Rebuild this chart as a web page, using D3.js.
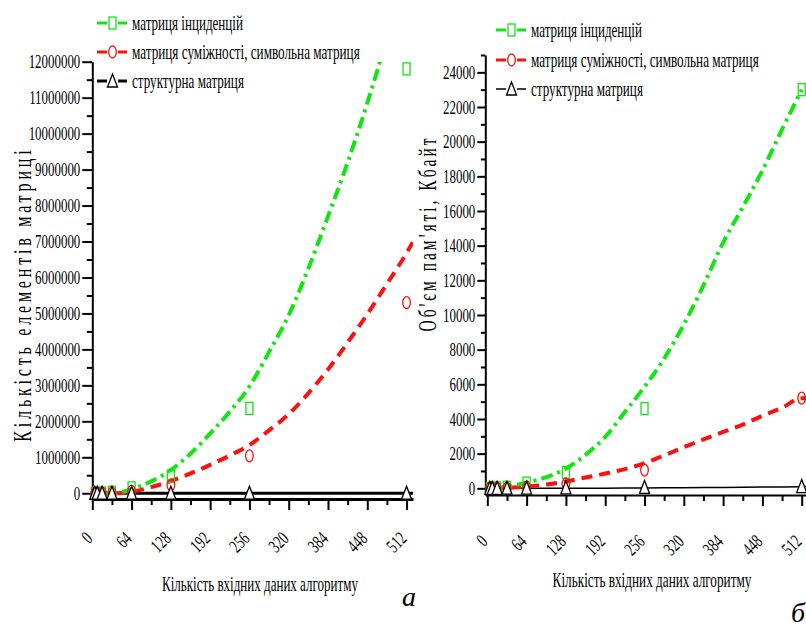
<!DOCTYPE html>
<html><head><meta charset="utf-8">
<script src="https://cdn.jsdelivr.net/npm/d3@7/dist/d3.min.js"></script>
<style>
body{margin:0;background:#fff}
svg{display:block}
text{font-family:"Liberation Serif","Times New Roman",serif;fill:#000}
</style>
</head><body>
<svg id="c" width="806" height="628"></svg>
<script>
// ---------- data ----------
const seriesNames = ["матриця інциденцій", "матриця суміжності, символьна матриця", "структурна матриця"];
const xTitle = "Кількість вхідних даних алгоритму";
const yTitleA = "Кількість елементів матриці";
const yTitleB = "Об'єм пам'яті, Кбайт";

const nodeCounts = [4, 8, 16, 32, 64, 128, 256, 512];
// panel a: number of matrix elements
const incidenceElems  = [500, 2000, 8000, 30000, 150000, 480000, 2360000, 11800000];
const adjacencyElems  = [100, 400, 2000, 10000, 50000, 230000, 1040000, 5300000];
const structuralElems = [10, 20, 40, 80, 160, 320, 640, 1280];
// panel b: memory, KB
const incidenceKB  = [1, 4, 16, 60, 300, 920, 4600, 23000];
const adjacencyKB  = [0.2, 1, 4, 15, 60, 250, 1050, 5200];
const structuralKB = [0.5, 1, 2, 5, 10, 25, 50, 100];

// fitted trend lines
const fitX = [8, 16, 32, 48, 64, 96, 128, 160, 192, 224, 256, 288, 320, 352, 384, 416, 448, 480, 512, 522];
const incidenceFitElems = [10000, 0, 0, 40000, 110000, 330000, 650000, 1100000, 1660000, 2270000, 2970000, 3930000, 4950000, 6250000, 7700000, 9200000, 10850000, 12700000, 15000000, 15800000];
const adjacencyFitElems = [0, 0, 0, 10000, 40000, 170000, 340000, 550000, 790000, 1050000, 1340000, 1750000, 2200000, 2780000, 3440000, 4190000, 4980000, 5820000, 6680000, 6980000];
const structuralFitElems = [0, 0, 0, 0, 0, 0, 0, 0, 0, 0, 0, 0, 0, 0, 0, 0, 0, 0, 0, 0];
const incidenceFitKB = [20, 30, 100, 200, 330, 640, 1140, 1930, 2970, 4400, 5860, 7490, 9450, 11710, 14180, 16220, 18330, 20710, 23000, 23000];
const adjacencyFitKB = [0, 10, 30, 60, 100, 220, 400, 620, 850, 1110, 1450, 1900, 2370, 2820, 3250, 3680, 4180, 4650, 5200, 5200];
const structuralFitKB = [0, 0, 0, 0, 0, 1, 3, 6, 10, 15, 20, 26, 33, 41, 50, 60, 70, 82, 95, 100];

const xMajor = [0, 64, 128, 192, 256, 320, 384, 448, 512];
const xMinor = [32, 96, 160, 224, 288, 352, 416, 480];
const yMajorA = d3.range(0, 12000001, 1000000);
const yMinorA = d3.range(500000, 12000001, 1000000);
const yMajorB = d3.range(0, 24001, 2000);
const yMinorB = d3.range(1000, 25001, 2000);

// ---------- style ----------
const GREEN = "#10e610", RED = "#ff1010", BLACK = "#000";
const K = 0.68; // horizontal glyph condensation
const svg = d3.select("#c");

// condensed text: scale a text horizontally so its width equals target
function condText(parent, x, y, str, size, target, anchor, dy) {
  const g = parent.append("g");
  const t = g.append("text").attr("text-anchor", anchor || "start").attr("dy", dy || "0.33em")
    .style("font-size", size + "px").text(str);
  const w = t.node().getComputedTextLength();
  const k = target ? target / w : K;
  g.attr("transform", `translate(${x},${y}) scale(${k},1)`);
  return g;
}

function drawPanel(p) {
  const g = svg.append("g");
  const x = d3.scaleLinear().domain(p.xDom).range(p.xRange);
  const y = d3.scaleLinear().domain(p.yDom).range(p.yRange);

  const clipId = "clip" + p.id;
  svg.append("clipPath").attr("id", clipId).append("rect")
    .attr("x", p.xRange[0]).attr("y", p.yRange[1])
    .attr("width", p.xRange[1] - p.xRange[0]).attr("height", p.yRange[0] - p.yRange[1]);

  // x axis
  const xa = g.append("g").attr("transform", `translate(0,${p.yRange[0]})`);
  xa.call(d3.axisBottom(x).tickValues(xMajor).tickSize(p.xTick).tickSizeOuter(0).tickFormat(d3.format("d")));
  xa.append("g").call(d3.axisBottom(x).tickValues(xMinor).tickSize(p.xTick * 0.55).tickFormat(""))
    .select(".domain").remove();
  xa.selectAll("path.domain").attr("stroke-width", p.axisW);
  xa.selectAll(".tick line").attr("stroke-width", 2);
  xa.selectAll(".tick text")
    .attr("x", 0).attr("y", 0).attr("dy", "0.35em")
    .attr("transform", `translate(-4,${p.xLabOff}) rotate(-45) scale(${K},1)`)
    .attr("text-anchor", "end").style("font-size", "19px").style("font-family", "Liberation Serif");

  // y axis
  const ya = g.append("g").attr("transform", `translate(${p.xRange[0]},0)`);
  ya.call(d3.axisLeft(y).tickValues(p.yMajor).tickSize(p.yTick).tickPadding(p.yPad).tickSizeOuter(0).tickFormat(d3.format("d")));
  ya.append("g").call(d3.axisLeft(y).tickValues(p.yMinor).tickSize(p.yTick * 0.55).tickFormat(""))
    .select(".domain").remove();
  ya.selectAll("path.domain").attr("stroke-width", 2);
  ya.selectAll(".tick line").attr("stroke-width", 2);
  ya.selectAll(".tick text").style("font-size", "19px").style("font-family", "Liberation Serif")
    .attr("x", 0).attr("transform", `translate(${-(p.yTick + p.yPad)},0) scale(${K},1)`);

  // fitted lines
  const plot = g.append("g").attr("clip-path", `url(#${clipId})`);
  const line = d3.line().x(d => x(d[0])).y(d => y(d[1])).curve(d3.curveMonotoneX);
  const sPts = [[p.xDom[0], p.structFit[0]]].concat(d3.zip(fitX, p.structFit)).concat([[p.xDom[1], p.structFit[p.structFit.length - 1]]]);
  plot.append("path").datum(sPts)
    .attr("d", d3.line().x(d => x(d[0])).y(d => y(d[1])))
    .attr("fill", "none").attr("stroke", BLACK).attr("stroke-width", p.blackW);
  plot.append("path").datum(d3.zip(fitX, p.adjFit))
    .attr("d", line).attr("fill", "none").attr("stroke", RED).attr("stroke-width", 4)
    .attr("stroke-dasharray", "11 7");
  plot.append("path").datum(d3.zip(fitX, p.incFit).filter(d => d[0] <= 512))
    .attr("d", line).attr("fill", "none").attr("stroke", GREEN).attr("stroke-width", 4)
    .attr("stroke-dasharray", "12 5 3 5");

  // markers
  const mk = g.append("g");
  mk.selectAll("rect.sq").data(d3.zip(nodeCounts, p.inc)).join("rect")
    .attr("x", d => x(d[0]) - 3.5).attr("y", d => y(d[1]) - 6).attr("width", 7).attr("height", 12)
    .attr("fill", "none").attr("stroke", GREEN).attr("stroke-width", 1.3);
  mk.selectAll("ellipse").data(d3.zip(nodeCounts, p.adj)).join("ellipse")
    .attr("cx", d => x(d[0])).attr("cy", d => y(d[1])).attr("rx", 3.8).attr("ry", 6)
    .attr("fill", "none").attr("stroke", RED).attr("stroke-width", 1.3);
  mk.selectAll("path.tri").data(d3.zip(nodeCounts, p.str)).join("path")
    .attr("d", d => { const cx = x(d[0]), cy = y(d[1]); return `M${cx},${cy - 7}L${cx + 5},${cy + 6}L${cx - 5},${cy + 6}Z`; })
    .attr("fill", "#fff").attr("stroke", BLACK).attr("stroke-width", 1.3);

  // legend
  const lg = g.append("g");
  const cols = [GREEN, RED, BLACK];
  seriesNames.forEach((name, i) => {
    const cy = p.legY[i], lx = p.legX;
    const w = (i === 2) ? p.legBlackW : 3;
    lg.append("line").attr("x1", lx).attr("x2", lx + 10).attr("y1", cy).attr("y2", cy).attr("stroke", cols[i]).attr("stroke-width", w);
    lg.append("line").attr("x1", lx + 21).attr("x2", lx + 30).attr("y1", cy).attr("y2", cy).attr("stroke", cols[i]).attr("stroke-width", w);
    const mx = lx + 15.5;
    if (i === 0) lg.append("rect").attr("x", mx - 3.5).attr("y", cy - 6).attr("width", 7).attr("height", 12).attr("fill", "#fff").attr("stroke", GREEN).attr("stroke-width", 1.3);
    if (i === 1) lg.append("ellipse").attr("cx", mx).attr("cy", cy).attr("rx", 3.8).attr("ry", 6).attr("fill", "#fff").attr("stroke", RED).attr("stroke-width", 1.3);
    if (i === 2) lg.append("path").attr("d", `M${mx},${cy - 7}L${mx + 5},${cy + 6}L${mx - 5},${cy + 6}Z`).attr("fill", "#fff").attr("stroke", BLACK).attr("stroke-width", 1.3);
    condText(lg, lx + 35, cy, name, 21, [111, 228, 112][i], "start", "0.33em");
  });

  // axis titles
  condText(g, p.xTitleX, p.xTitleY, xTitle, 21, p.xTitleW, "middle", "0");

  // rotated, letter-spaced y title
  const yk = 0.62;
  const ytg = g.append("g").attr("transform", `translate(${p.yTitleX},${p.yTitleY}) rotate(-90) scale(${yk},1)`);
  const yt = ytg.append("text").attr("text-anchor", "middle").style("font-size", p.yTitleSize + "px").text(p.yTitle);
  const L = yt.node().getComputedTextLength();
  const n = p.yTitle.length;
  yt.attr("letter-spacing", (p.yTitleLen / yk - L) / n).attr("x", ((p.yTitleLen / yk - L) / n) / 2);

  g.append("text").attr("x", p.tagX).attr("y", p.tagY).style("font-size", "28px").style("font-style", "italic").text(p.tag);
}

drawPanel({
  id: "a", xDom: [0, 522.5], xRange: [92.3, 413], yDom: [-160000, 12000000], yRange: [499, 61.7],
  yMajor: yMajorA, yMinor: yMinorA, xTick: 11, yTick: 10, yPad: 2, axisW: 3, xLabOff: 36, blackW: 3,
  inc: incidenceElems, adj: adjacencyElems, str: structuralElems,
  incFit: incidenceFitElems, adjFit: adjacencyFitElems, structFit: structuralFitElems,
  legX: 97, legY: [23, 52, 81], legBlackW: 3,
  xTitleX: 260, xTitleY: 591, xTitleW: 196, yTitle: yTitleA, yTitleX: 31, yTitleY: 296, yTitleLen: 295, yTitleSize: 26,
  tag: "а", tagX: 402, tagY: 606
});
drawPanel({
  id: "b", xDom: [-3.3, 519], xRange: [485.3, 806], yDom: [-386, 25000], yRange: [495, 55],
  yMajor: yMajorB, yMinor: yMinorB, xTick: 11, yTick: 8, yPad: 2, axisW: 2, xLabOff: 43, blackW: 1.5,
  inc: incidenceKB, adj: adjacencyKB, str: structuralKB,
  incFit: incidenceFitKB, adjFit: adjacencyFitKB, structFit: structuralFitKB,
  legX: 496, legY: [30, 60, 89], legBlackW: 1.5,
  xTitleX: 652, xTitleY: 587, xTitleW: 199, yTitle: yTitleB, yTitleX: 436, yTitleY: 235, yTitleLen: 196, yTitleSize: 25,
  tag: "б", tagX: 791, tagY: 622
});
</script>
</body></html>
